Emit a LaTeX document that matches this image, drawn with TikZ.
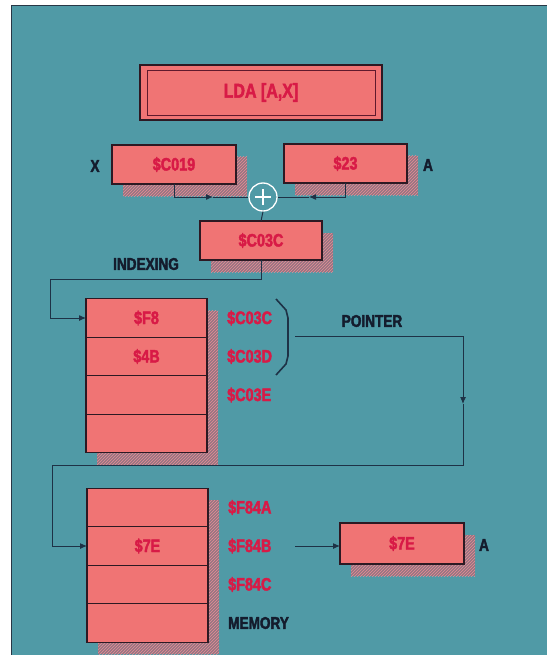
\documentclass[tikz,border=0pt]{standalone}
\usepackage{fontspec}
\setmainfont{Liberation Sans}[FakeStretch=0.8, BoldFeatures={FakeBold=2.2}]
\usetikzlibrary{positioning,arrows.meta,shadows,patterns}
\definecolor{panelteal}{RGB}{80,154,166}
\definecolor{paneledge}{RGB}{40,55,70}
\definecolor{boxpink}{RGB}{240,116,116}
\definecolor{boxedge}{RGB}{45,25,35}
\definecolor{addrred}{RGB}{216,26,70}
\definecolor{labeldark}{RGB}{20,28,45}
\definecolor{linkdark}{RGB}{30,50,70}
\definecolor{hatchbase}{RGB}{150,118,130}
\definecolor{hatchpink}{RGB}{232,140,150}

\begin{document}
\begin{tikzpicture}[x=1pt,y=-1pt,
  cell/.style={draw=boxedge, line width=1.4pt, fill=boxpink, text=addrred,
    font=\fontsize{18}{18}\selectfont\bfseries, inner sep=0pt, outer sep=0pt,
    minimum width=121pt, minimum height=38.5pt},
  hatched/.style={general shadow={shadow xshift=11pt, shadow yshift=-12pt, fill=hatchbase},
    general shadow={shadow xshift=11pt, shadow yshift=-12pt, pattern=north east lines, pattern color=hatchpink}},
  reg/.style={cell, hatched, minimum width=123pt, minimum height=39pt},
  addr/.style={text=addrred, font=\fontsize{18}{18}\selectfont\bfseries, anchor=west, inner sep=0pt},
  tag/.style={text=labeldark, font=\fontsize{17}{17}\selectfont\bfseries, inner sep=0pt},
  link/.style={draw=linkdark, line width=1pt},
  tip/.style={-{Latex[length=7pt,width=6pt]}}]

  % page and panel
  \useasboundingbox (0,0) rectangle (547,655);
  \fill[white] (0,0) rectangle (547,655);
  \fill[panelteal] (11,6) rectangle (547,655);
  \draw[paneledge, line width=1pt] (11,655) -- (11,6) -- (547,6);

  % instruction
  \node[cell, minimum width=242pt, minimum height=55pt, font=\fontsize{20}{20}\selectfont\bfseries] (instr) at (261,92.5) {LDA [A,X]};
  \draw[boxedge!70!addrred, line width=0.8pt] ([shift={(7,5)}]instr.north west) rectangle ([shift={(-7,-5)}]instr.south east);

  % registers and the sum
  \node[reg, minimum width=124pt] (regx) at (174,164.5) {\$C019};
  \node[reg] (rega) at (345.5,163.5) {\$23};
  \node[tag] (labx) at (95,166) {X};
  \node[tag] (laba) at (428,165) {A};
  \node[circle, draw=white, line width=1.3pt, fill=panelteal, minimum size=28pt, inner sep=0pt] (plus) at (263,197) {};
  \draw[white, line width=2.6pt] ([xshift=-8pt]plus.center) -- ([xshift=8pt]plus.center);
  \draw[white, line width=2.6pt] ([yshift=-8pt]plus.center) -- ([yshift=8pt]plus.center);
  \node[reg, minimum width=122pt] (sum) at (261,240.5) {\$C03C};
  \node[tag] (indexing) at (146,264) {INDEXING};

  \coordinate (xmid) at (213,197);
  \coordinate (amid) at (309,197);
  \draw[link, tip] (regx.south) |- (xmid);
  \draw[link] (xmid) -- (plus.west);
  \draw[link, tip] (rega.south) |- (amid);
  \draw[link] (amid) -- (plus.east);
  \draw[link] (plus.south) -- (sum.north);

  % pointer table
  \node[cell, hatched] (m1a) at (146.5,318) {\$F8};
  \node[cell, hatched, below=0pt of m1a] (m1b) {\$4B};
  \node[cell, hatched, below=0pt of m1b] (m1c) {};
  \node[cell, hatched, below=0pt of m1c] (m1d) {};
  \node[addr, right=20pt of m1a] (p3c) {\$C03C};
  \node[addr, right=20pt of m1b] (p3d) {\$C03D};
  \node[addr, right=20pt of m1c] (p3e) {\$C03E};
  \draw[linkdark, line width=1.6pt] (276,299) -- (286,310) -- (288,318)
    -- (288,356) -- (286,364) -- (276,375);
  \node[tag] (pointer) at (372,321) {POINTER};

  \coordinate (idx) at (50,279);
  \draw[link, tip] (sum.south) |- (idx) |- (m1a.west);

  % memory table
  \node[cell, hatched] (m2a) at (147.5,507.5) {};
  \node[cell, hatched, below=0pt of m2a] (m2b) {\$7E};
  \node[cell, hatched, below=0pt of m2b] (m2c) {};
  \node[cell, hatched, below=0pt of m2c] (m2d) {};
  \node[addr, right=20pt of m2a] (f4a) {\$F84A};
  \node[addr, right=20pt of m2b] (f4b) {\$F84B};
  \node[addr, right=20pt of m2c] (f4c) {\$F84C};
  \node[tag, anchor=west, right=20pt of m2d] (memory) {MEMORY};

  \coordinate (ptr) at (295,336);
  \coordinate (ptrturn) at (463,404);
  \coordinate (ret) at (52,465);
  \draw[link, tip] (ptr) -| (ptrturn);
  \draw[link, tip] (ptrturn) |- (ret) |- (m2b.west);

  % result in A
  \node[reg, minimum width=124pt, minimum height=41pt] (regout) at (402,543.5) {\$7E};
  \node[tag] (labout) at (484,545) {A};
  \coordinate (load) at (295,546);
  \draw[link, tip] (load) -- (load -| regout.west);
\end{tikzpicture}
\end{document}
